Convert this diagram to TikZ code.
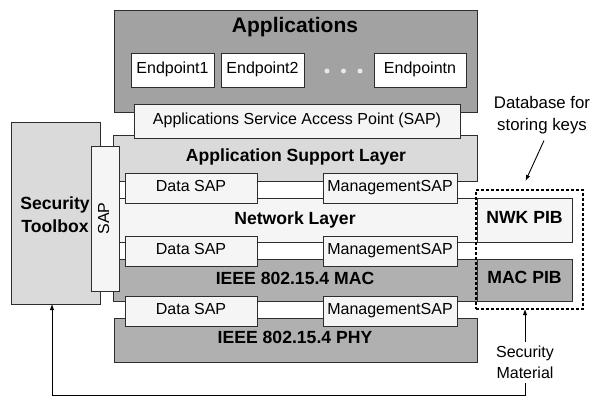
\documentclass[tikz,border=0pt]{standalone}
\usepackage{fontspec}
\setmainfont{Liberation Sans}
\usetikzlibrary{arrows.meta}
\definecolor{appfill}{RGB}{162,162,162}
\definecolor{lowfill}{RGB}{176,176,176}
\definecolor{midfill}{RGB}{218,218,218}
\definecolor{lightfill}{RGB}{245,245,245}
\definecolor{edge}{RGB}{45,45,45}
\definecolor{dotfill}{RGB}{232,232,232}
\begin{document}
\begin{tikzpicture}[x=1pt,y=-1pt,
  blk/.style={draw=edge, line width=0.8pt, inner sep=0pt, outer sep=0pt, anchor=north west},
  title/.style={font=\bfseries\fontsize{17.6}{21}\selectfont, inner sep=0pt, text height=0.72em, text depth=0pt},
  lbl/.style={font=\fontsize{16}{19}\selectfont, inner sep=0pt, text height=0.72em, text depth=0pt},
  note/.style={font=\fontsize{16}{21}\selectfont, inner sep=0pt, align=center},
  arr/.style={-{Latex[length=6pt,width=4.5pt]}, line width=0.9pt, draw=black},
  pibframe/.style={draw=black, dash pattern=on 3pt off 2pt, line width=1.2pt, inner sep=0pt, outer sep=0pt, anchor=north west},
]
\useasboundingbox (0,0) rectangle (594,397);

% Application layer with its endpoints
\node[blk, fill=appfill, minimum width=363pt, minimum height=102pt] (apps) at (114,10) {};
\node[title, font=\bfseries\fontsize{21}{25}\selectfont] (appstitle) at (295,28.5) {Applications};
\node[blk, lbl, fill=white, minimum width=83pt, minimum height=34pt] (ep1) at (131,53) {Endpoint1};
\node[blk, lbl, fill=white, minimum width=83pt, minimum height=34pt] (ep2) at (221,53) {Endpoint2};
\node[blk, lbl, fill=white, minimum width=92pt, minimum height=34pt] (epn) at (374,53) {Endpointn};
\foreach \dx [count=\i] in {327,343.5,360}
  \node[circle, fill=dotfill, inner sep=0pt, minimum size=5pt] (dot\i) at (\dx,71) {};

% Application support layer and its service access point
\node[blk, fill=midfill, minimum width=364pt, minimum height=46pt] (aps) at (113,135) {};
\node[title] (apstitle) at (296,158) {Application Support Layer};
\node[blk, lbl, fill=lightfill, minimum width=326pt, minimum height=34pt] (appsap) at (134,104) {Applications Service Access Point (SAP)};

% Lower stack layers
\node[blk, fill=lightfill, minimum width=364pt, minimum height=44pt] (net) at (113,198) {};
\node[title] (nettitle) at (295,221) {Network Layer};
\node[blk, fill=lowfill, minimum width=364pt, minimum height=42pt] (mac) at (113,259) {};
\node[title] (mactitle) at (295,281) {IEEE 802.15.4 MAC};
\node[blk, fill=lowfill, minimum width=363pt, minimum height=44pt] (phy) at (114,318) {};
\node[title] (phytitle) at (295,340) {IEEE 802.15.4 PHY};

% Information bases
\node[blk, title, fill=lightfill, minimum width=95pt, minimum height=44pt] (nwkpib) at (477,198) {NWK PIB};
\node[blk, title, fill=lowfill, minimum width=95pt, minimum height=42pt] (macpib) at (477,259) {MAC PIB};

% Data and management SAPs between layers
\foreach \y [count=\i] in {173,236,296} {
  \node[blk, lbl, fill=lightfill, minimum width=132pt, minimum height=30pt] (dsap\i) at (125,\y) {Data SAP};
  \node[blk, lbl, fill=lightfill, minimum width=134pt, minimum height=30pt] (msap\i) at (323,\y) {ManagementSAP};
}

% Security toolbox with its SAP
\node[blk, fill=midfill, minimum width=89pt, minimum height=182pt] (toolbox) at (11,122) {};
\node[note, font=\bfseries\fontsize{17.6}{23}\selectfont] (tbtext) at (55,214.5) {Security\\Toolbox};
\node[blk, fill=lightfill, minimum width=28pt, minimum height=145pt] (sapv) at (91,146) {};
\node[lbl, rotate=90] (sapvtext) at (105.5,218.5) {SAP};

% Key database frame and annotations
\node[pibframe, minimum width=107pt, minimum height=119pt] (pib) at (476,190) {};
\node[note, font=\fontsize{16.8}{22}\selectfont] (db) at (542,115.5) {Database for\\storing keys};
\node[note] (secmat) at (525,362.5) {Security\\Material};

\draw[arr] ([xshift=2pt,yshift=-6pt]db.south) -- ([xshift=-4pt,yshift=9pt]pib.north);
\draw[arr] ([yshift=4pt]secmat.north) -- (secmat.north |- pib.south);
\draw[arr] ([yshift=-4pt]secmat.south) -- ++(0,12) -| ([xshift=-3.5pt]toolbox.south);
\end{tikzpicture}
\end{document}
